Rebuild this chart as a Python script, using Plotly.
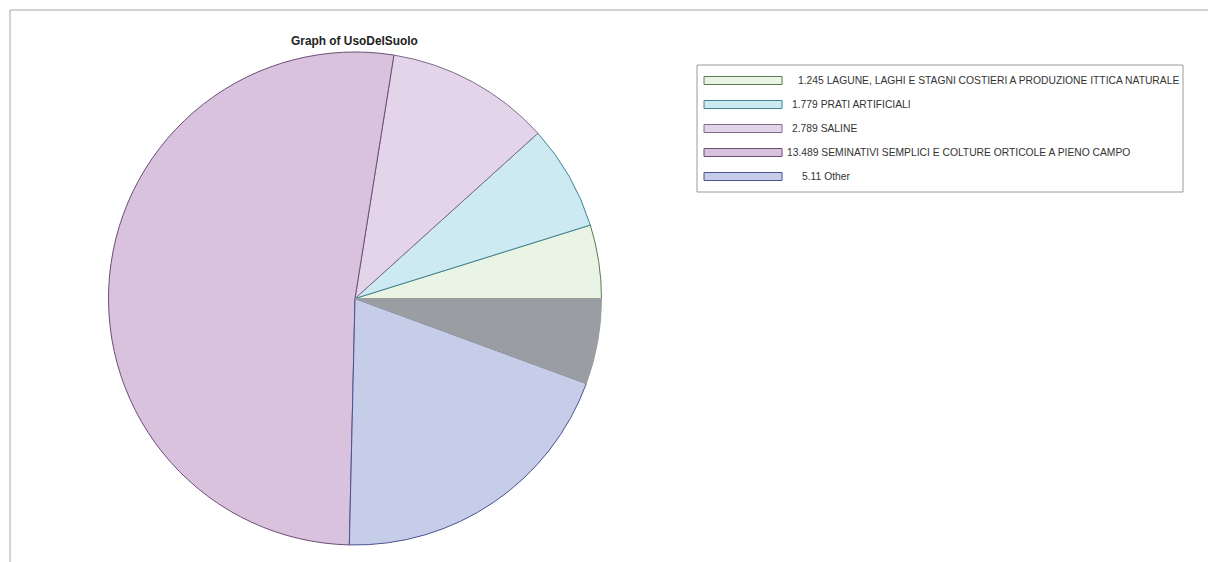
import plotly.graph_objects as go

# Land use shares by category
categories = [
    "LAGUNE, LAGHI E STAGNI COSTIERI A PRODUZIONE ITTICA NATURALE",
    "PRATI ARTIFICIALI",
    "SALINE",
    "SEMINATIVI SEMPLICI E COLTURE ORTICOLE A PIENO CAMPO",
    "Other",
    "",
]
values = [1.245, 1.779, 2.789, 13.489, 5.11, 1.45]
value_labels = ["1.245", "1.779", "2.789", "13.489", "5.11", ""]

fill_colors = ["#e9f4e4", "#cdeaf2", "#e3d4ea", "#d8c2de", "#c6cde8", "#9a9ea2"]
edge_colors = ["#5c7a52", "#3f8696", "#806b8c", "#6c4e76", "#4b5290", "#9a9ea2"]

W, H = 1208, 562
cx, cy, r = 355, 298.5, 246.5

# first slice begins at 3 o'clock and slices run counterclockwise
first_span = 360 * values[0] / sum(values)

fig = go.Figure()
fig.add_trace(go.Pie(
    values=values,
    labels=[f"{v} {c}" for v, c in zip(value_labels, categories)],
    sort=False,
    direction="counterclockwise",
    rotation=90 - first_span,
    textinfo="none",
    hoverinfo="label+value",
    marker=dict(colors=fill_colors, line=dict(color=edge_colors, width=1)),
    domain=dict(x=[(cx - r) / W, (cx + r) / W], y=[(H - cy - r) / H, (H - cy + r) / H]),
    showlegend=False,
))

shapes = []
annotations = []

# outer frame
shapes.append(dict(type="line", xref="paper", yref="paper", x0=10 / W, x1=1, y0=1 - 10 / H, y1=1 - 10 / H,
                   line=dict(color="#a8a8a8", width=1)))
shapes.append(dict(type="line", xref="paper", yref="paper", x0=10 / W, x1=10 / W, y0=0, y1=1 - 10 / H,
                   line=dict(color="#a8a8a8", width=1)))

# legend box
lx0, ly0, lx1, ly1 = 697, 65, 1183, 192
shapes.append(dict(type="rect", xref="paper", yref="paper",
                   x0=lx0 / W, x1=lx1 / W, y0=1 - ly0 / H, y1=1 - ly1 / H,
                   line=dict(color="#9a9a9a", width=1), fillcolor="white"))

text_x = [796, 790, 790, 785, 800]
for i in range(5):
    yc = 80.5 + i * 24
    shapes.append(dict(type="rect", xref="paper", yref="paper",
                       x0=704 / W, x1=782 / W, y0=1 - (yc - 4) / H, y1=1 - (yc + 4) / H,
                       line=dict(color=edge_colors[i], width=1), fillcolor=fill_colors[i]))
    annotations.append(dict(xref="paper", yref="paper", x=text_x[i] / W, y=1 - yc / H,
                            xanchor="left", yanchor="middle", showarrow=False,
                            text=f"{value_labels[i]} {categories[i]}",
                            font=dict(family="Liberation Sans, Arial", size=10.3, color="#333333")))

annotations.append(dict(xref="paper", yref="paper", x=cx / W, y=1 - 41 / H,
                        xanchor="center", yanchor="middle", showarrow=False,
                        text="<b>Graph of UsoDelSuolo</b>",
                        font=dict(family="Liberation Sans, Arial", size=11.9, color="#222222")))

fig.update_layout(
    width=W, height=H,
    margin=dict(l=0, r=0, t=0, b=0),
    paper_bgcolor="white",
    plot_bgcolor="white",
    shapes=shapes,
    annotations=annotations,
)

fig.write_html("out.html")
